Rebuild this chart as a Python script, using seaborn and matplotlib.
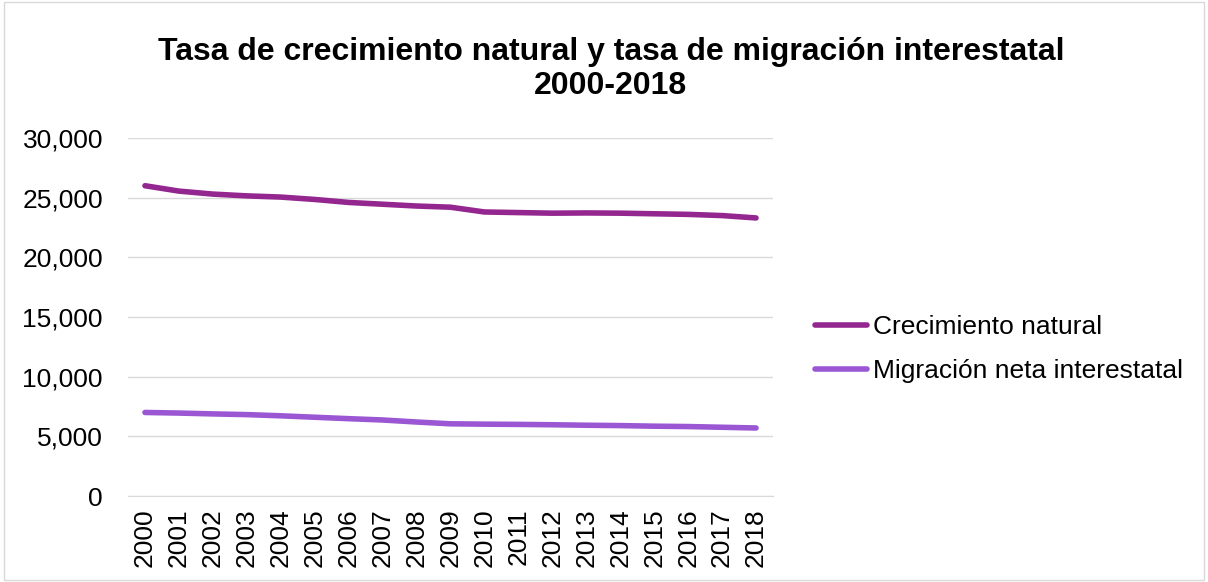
import pandas as pd
import matplotlib.pyplot as plt
import seaborn as sns

years = [str(y) for y in range(2000, 2019)]
natural = [26000, 25550, 25300, 25150, 25050, 24850, 24600, 24450, 24300, 24200,
           23800, 23750, 23700, 23720, 23700, 23650, 23600, 23500, 23300]
migracion = [7000, 6950, 6880, 6820, 6720, 6600, 6480, 6370, 6200, 6050,
             6020, 6000, 5970, 5930, 5900, 5850, 5820, 5760, 5700]
series_names = ["Crecimiento natural", "Migración neta interestatal"]
colors = ["#93278F", "#9B57D3"]

df = pd.DataFrame({"Año": years * 2,
                   "Valor": natural + migracion,
                   "Serie": [series_names[0]] * len(years) + [series_names[1]] * len(years)})

sns.set_style("white")
plt.rcParams['font.family'] = ['Liberation Sans', 'DejaVu Sans']
plt.rcParams['text.color'] = 'black'
plt.rcParams['xtick.color'] = 'black'
plt.rcParams['ytick.color'] = 'black'

fig = plt.figure(figsize=(12.08, 5.82), dpi=100)
ax = fig.add_axes([128 / 1208, 1 - 496 / 582, (773 - 128) / 1208, (496 - 138) / 582])

sns.lineplot(data=df, x="Año", y="Valor", hue="Serie", palette=colors, linewidth=4,
             ax=ax, sort=False, solid_capstyle="round")

ax.set_ylim(0, 30000)
ax.set_yticks(range(0, 30001, 5000))
ax.set_yticklabels([f"{v:,}" for v in range(0, 30001, 5000)], fontsize=19)
ax.set_xlim(-0.5, len(years) - 0.5)
ax.tick_params(axis="x", rotation=90, labelsize=19, length=0, pad=9)
ax.tick_params(axis="y", length=0, pad=18)
ax.yaxis.grid(True, color="#D9D9D9", linewidth=1)
ax.set_axisbelow(True)
for s in ["top", "right", "left"]:
    ax.spines[s].set_visible(False)
ax.spines["bottom"].set_color("#D9D9D9")
ax.set_xlabel("")
ax.set_ylabel("")

ax.legend(loc="center left", bbox_to_anchor=(1.048, 0.41), borderaxespad=0, frameon=False,
          fontsize=19, handlelength=2.0, handletextpad=0.2, labelspacing=0.75)

fig.text(611 / 1208, 1 - 69 / 582, "Tasa de crecimiento natural y tasa de migración interestatal\n2000-2018",
         ha="center", va="center", fontsize=23, fontweight="bold", linespacing=1.15)

border = plt.Rectangle((0.003, 0.003), 0.994, 0.994, transform=fig.transFigure,
                       fill=False, edgecolor="#D9D9D9", linewidth=1)
fig.patches.append(border)

fig.savefig("out.png", dpi=100)
